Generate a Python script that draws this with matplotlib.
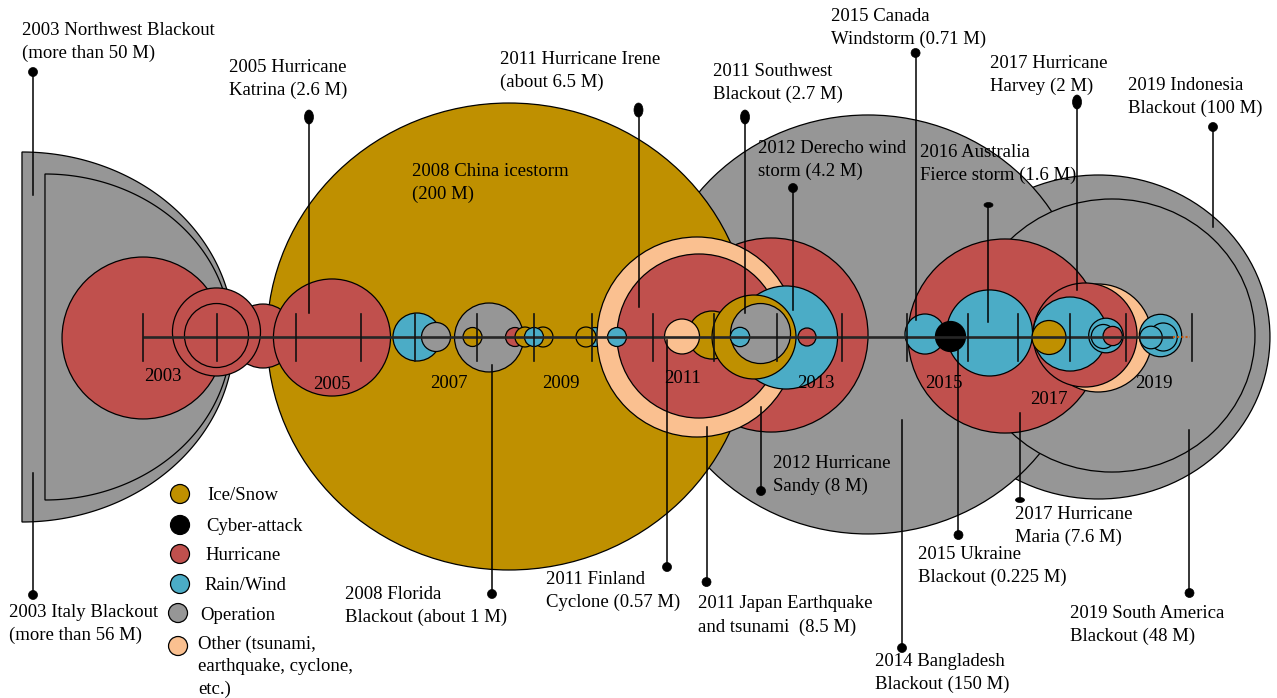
import numpy as np
import matplotlib
matplotlib.use("Agg")
import matplotlib.pyplot as plt
from matplotlib.patches import Ellipse, Polygon

plt.rcParams['font.family'] = ['Liberation Serif', 'DejaVu Serif']

# ---------------- data ----------------
categories = ['Ice/Snow', 'Cyber-attack', 'Hurricane', 'Rain/Wind', 'Operation',
              'Other (tsunami,\nearthquake, cyclone,\netc.)']
cat_keys = ['ice', 'cyber', 'hur', 'rain', 'op', 'other']
cat_colors = ['#BF9000', '#000000', '#C0504D', '#4BACC6', '#969696', '#FAC090']

# timeline (x unit = year position on the drawn timeline)
year_edges = [2003.000, 2004.194, 2005.468, 2006.516, 2007.387, 2008.387, 2009.306,
              2010.242, 2011.226, 2012.210, 2013.226, 2014.274, 2015.323, 2016.306,
              2017.113, 2017.952, 2018.855, 2019.919]
year_labels = ['2003', '2005', '2007', '2009', '2011', '2013', '2015', '2017', '2019']
year_label_x = [2003.323, 2006.048, 2007.935, 2009.742, 2011.694, 2013.855, 2015.919,
                2017.613, 2019.306]
year_label_y = [-0.645, -0.774, -0.742, -0.758, -0.677, -0.742, -0.742, -1.016, -0.742]
timeline_start, timeline_end, timeline_dotted_end = 2003.0, 2019.613, 2019.887

# half bubbles (2003 blackouts, cut at left)
half_cat = ['op', 'op']
half_x = [2001.048, 2001.419]
half_a = [3.419, 3.000]
half_b = [2.984, 2.629]

# bubbles, drawn back to front
bub_cat = ['op', 'op', 'op', 'ice',
           'hur', 'hur', 'hur', 'hur', 'hur',
           'rain', 'op', 'op', 'ice', 'hur', 'ice', 'ice', 'rain', 'rain', 'ice',
           'hur', 'other', 'hur', 'rain', 'ice', 'other', 'rain', 'ice', 'op', 'rain', 'hur',
           'hur', 'rain', 'rain', 'cyber', 'other', 'hur', 'rain', 'ice',
           'rain', 'rain', 'hur', 'rain', 'rain', 'rain']
bub_x = [2018.411, 2014.694, 2018.629, 2008.903,
         2003.000, 2004.935, 2004.185, 2004.185, 2006.048,
         2007.419, 2007.726, 2008.581, 2008.315, 2009.000, 2009.161, 2009.452, 2009.306,
         2010.290, 2010.145,
         2013.129, 2011.935, 2011.968, 2010.645, 2012.177, 2011.694, 2013.371, 2012.855,
         2012.960, 2012.629, 2013.710,
         2016.903, 2015.613, 2016.653, 2016.024, 2018.403, 2018.194, 2017.952, 2017.613,
         2018.532, 2018.489, 2018.640, 2019.411, 2019.456, 2019.258]
bub_y = [0.000, 0.202, 0.024, 0.008,
         -0.016, 0.016, 0.081, 0.024, -0.008,
         0.000, 0.000, -0.008, 0.000, 0.000, 0.000, 0.000, 0.000, 0.000, 0.000,
         0.032, 0.000, 0.016, 0.000, 0.032, 0.008, -0.008, 0.000, 0.056, 0.000, 0.000,
         0.016, 0.048, 0.065, 0.008, -0.016, 0.032, 0.048, -0.008,
         0.024, 0.008, 0.016, 0.024, 0.000, -0.008]
bub_rx = [2.766, 3.516, 2.306, 3.903,
          1.306, 0.516, 0.710, 0.516, 0.944,
          0.387, 0.234, 0.556, 0.153, 0.153, 0.161, 0.161, 0.153, 0.153, 0.161,
          1.565, 1.613, 1.323, 0.153, 0.387, 0.282, 0.831, 0.677, 0.484, 0.156, 0.145,
          1.565, 0.323, 0.694, 0.242, 0.871, 0.839, 0.597, 0.274,
          0.279, 0.194, 0.155, 0.342, 0.226, 0.182]
bub_ry = [2.613, 3.379, 2.202, 3.766] + bub_rx[4:]

# event labels with leader lines
ev_text = ['2003 Northwest Blackout\n(more than 50 M)', '2005 Hurricane\nKatrina (2.6 M)',
           '2011 Hurricane Irene\n(about 6.5 M)', '2011 Southwest\nBlackout (2.7 M)',
           '2012 Derecho wind\nstorm (4.2 M)', '2015 Canada\nWindstorm (0.71 M)',
           '2016 Australia\nFierce storm (1.6 M)', '2017 Hurricane\nHarvey (2 M)',
           '2019 Indonesia\nBlackout (100 M)', '2003 Italy Blackout\n(more than 56 M)',
           '2008 Florida\nBlackout (about 1 M)', '2011 Finland\nCyclone (0.57 M)',
           '2011 Japan Earthquake\nand tsunami  (8.5 M)', '2012 Hurricane\nSandy (8 M)',
           '2014 Bangladesh\nBlackout (150 M)', '2015 Ukraine\nBlackout (0.225 M)',
           '2017 Hurricane\nMaria (7.6 M)', '2019 South America\nBlackout (48 M)']
ev_text_x = [2001.048, 2004.381, 2008.758, 2012.194, 2012.919, 2014.097, 2015.527,
             2016.655, 2018.884, 2000.839, 2006.258, 2009.500, 2011.952, 2013.169,
             2014.800, 2015.500, 2017.065, 2017.944]
ev_text_y = [4.758, 4.161, 4.290, 4.097, 2.855, 4.984, 2.790, 4.226, 3.863,
             -4.637, -4.339, -4.097, -4.492, -2.226, -5.419, -3.694, -3.048, -4.653]
ev_line_x = [2001.226, 2005.677, 2010.992, 2012.710, 2013.484, 2015.461, 2016.637,
             2018.065, 2020.258, 2001.226, 2008.629, 2011.452, 2012.089, 2012.968,
             2015.242, 2016.153, 2017.145, 2019.879]
ev_line_dot = [4.274, 3.548, 3.661, 3.548, 2.403, 4.581, 2.129, 3.790, 3.387,
               -4.161, -4.145, -3.710, -3.952, -2.484, -5.016, -3.194, -2.629, -4.129]
ev_line_end = [2.290, 0.387, 0.484, 0.387, 0.435, 0.274, 0.242, 0.758, 1.774,
               -2.194, -0.452, -0.048, -1.452, -1.129, -1.339, -0.210, -1.226, -1.500]
ev_dot_shape = ['round', 'tall', 'tall', 'tall', 'round', 'round', 'flat', 'tall', 'round',
                'round', 'round', 'round', 'round', 'round', 'round', 'round', 'flat', 'round']
ev_extra_text = ['2008 China icestorm\n(200 M)']
ev_extra_x = [2007.339]
ev_extra_y = [2.484]

# legend layout
leg_marker_x = [2003.597, 2003.597, 2003.597, 2003.597, 2003.565, 2003.565]
leg_text_x = [2004.032, 2004.016, 2004.0, 2003.984, 2003.919, 2003.887]
leg_marker_y = [-2.532, -3.032, -3.500, -3.984, -4.452, -4.984]
leg_text_y = [-2.564, -3.064, -3.532, -4.016, -4.484, -5.323]

# ---------------- drawing ----------------
PX = 62.0
FS = 13.5
LS = 1.43
fig = plt.figure(figsize=(12.77, 6.98), dpi=100)
ax = fig.add_axes([0, 0, 1, 1])
ax.set_xlim(2003 - 143 / PX, 2003 + (1277 - 143) / PX)
ax.set_ylim(-(698 - 337) / PX, 337 / PX)
ax.axis('off')

col = dict(zip(cat_keys, cat_colors))
lw_c = 0.9
z = 1
for c, x0, a, b in zip(half_cat, half_x, half_a, half_b):
    t = np.linspace(-np.pi / 2, np.pi / 2, 200)
    pts = np.column_stack([x0 + a * np.cos(t), b * np.sin(t)])
    ax.add_patch(Polygon(pts, closed=True, facecolor=col[c], edgecolor='black',
                         lw=lw_c, zorder=z))
    z += 1
for c, x, y, rx, ry in zip(bub_cat, bub_x, bub_y, bub_rx, bub_ry):
    ax.add_patch(Ellipse((x, y), 2 * rx, 2 * ry, facecolor=col[c], edgecolor='black',
                         lw=lw_c, zorder=z))
    z += 1

# timeline
ax.plot([timeline_start, timeline_end], [0, 0], color='#262626', lw=1.9, zorder=z,
        solid_capstyle='butt')
ax.plot([timeline_end, timeline_dotted_end], [0, 0], color='#C55A11', lw=1.5,
        ls=(0, (1, 1)), zorder=z)
tick_half = 23.5 / PX
for xe in year_edges:
    ax.plot([xe, xe], [-tick_half - 0.008, tick_half - 0.008], color='#111111', lw=1.2,
            zorder=z)
for t, x, y in zip(year_labels, year_label_x, year_label_y):
    ax.text(x, y, t, ha='center', va='center', fontsize=FS, zorder=z + 1)

# event leaders
dot_w = 9 / PX
dot_sizes = {'round': (dot_w, dot_w), 'tall': (dot_w, 14 / PX), 'flat': (dot_w, 5 / PX)}
for t, tx, ty, lx, ld, le, ds in zip(ev_text, ev_text_x, ev_text_y, ev_line_x,
                                       ev_line_dot, ev_line_end, ev_dot_shape):
    ax.plot([lx, lx], [ld, le], color='black', lw=1.1, zorder=z + 2)
    w, h = dot_sizes[ds]
    ax.add_patch(Ellipse((lx, ld), w, h, facecolor='black', edgecolor='black', lw=0.5,
                         zorder=z + 2))
    ax.text(tx, ty, t, ha='left', va='center', fontsize=FS, linespacing=LS,
            zorder=z + 3)
for t, tx, ty in zip(ev_extra_text, ev_extra_x, ev_extra_y):
    ax.text(tx, ty, t, ha='left', va='center', fontsize=FS, linespacing=LS,
            zorder=z + 3)

# legend
leg_r = 9.5 / PX
for c, mx, tx, my, ty, lab in zip(cat_colors, leg_marker_x, leg_text_x, leg_marker_y,
                                  leg_text_y, categories):
    ax.add_patch(Ellipse((mx, my), 2 * leg_r, 2 * leg_r, facecolor=c, edgecolor='black',
                         lw=lw_c, zorder=z + 2))
    ax.text(tx, ty, lab, ha='left', va='center', fontsize=FS,
            linespacing=LS, zorder=z + 3)

fig.savefig('out.png', dpi=100)
